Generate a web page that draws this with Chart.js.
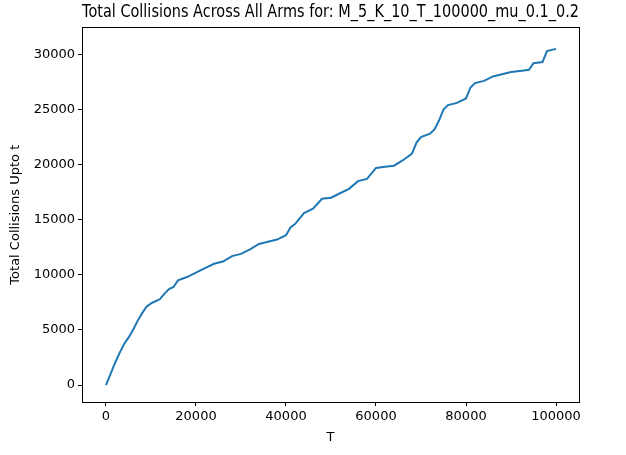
<!DOCTYPE html>
<html>
<head>
<meta charset="utf-8">
<script src="https://cdn.jsdelivr.net/npm/chart.js@4"></script>
<style>
  body { margin: 0; background: #fff; }
  #wrap { width: 626px; height: 455px; }
</style>
</head>
<body>
<div id="wrap"><canvas id="chart" width="626" height="455"></canvas></div>
<script>
// Data
const tValues = [0, 1000, 2000, 3000, 4000, 5000, 6000, 7000, 8000, 9000, 10000, 11000, 12000, 13000, 14000, 15000, 16000, 18000, 20000, 22000, 24000, 26000, 28000, 30000, 32000, 34000, 36000, 38000, 40000, 41000, 42000, 44000, 46000, 48000, 50000, 52000, 54000, 56000, 58000, 60000, 62000, 64000, 66000, 68000, 69000, 70000, 72000, 73000, 74000, 75000, 76000, 78000, 80000, 81000, 82000, 84000, 86000, 88000, 90000, 92000, 94000, 95000, 97000, 98000, 100000];
const collisions = [0, 1000, 2000, 2900, 3700, 4300, 5000, 5800, 6500, 7100, 7400, 7600, 7800, 8300, 8700, 8900, 9500, 9800, 10200, 10600, 11000, 11200, 11700, 11900, 12300, 12800, 13000, 13200, 13600, 14300, 14600, 15600, 16000, 16900, 17000, 17400, 17800, 18500, 18700, 19700, 19800, 19900, 20400, 21000, 22000, 22500, 22800, 23200, 24000, 25000, 25400, 25600, 26000, 27000, 27400, 27600, 28000, 28200, 28400, 28500, 28600, 29200, 29300, 30300, 30500];
const xTicks = [0, 20000, 40000, 60000, 80000, 100000];
const yTicks = [0, 5000, 10000, 15000, 20000, 25000, 30000];

const points = tValues.map((t, i) => ({ x: t, y: collisions[i] }));

// Draw the full axes box like matplotlib
const frame = {
  id: "frame",
  afterDraw(chart) {
    const { ctx, chartArea: a } = chart;
    ctx.save();
    ctx.strokeStyle = "#000";
    ctx.lineWidth = 1;
    ctx.strokeRect(Math.round(a.left) + 0.5, Math.round(a.top) + 0.5, Math.round(a.right - a.left), Math.round(a.bottom - a.top));
    ctx.restore();
  },
};

const font = { family: "DejaVu Sans", size: 13 };
const plain = (v) => String(v);

new Chart(document.getElementById("chart"), {
  type: "line",
  data: {
    datasets: [{
      data: points,
      borderColor: "#1f77b4",
      borderWidth: 2,
      pointRadius: 0,
      tension: 0,
    }],
  },
  options: {
    responsive: false,
    animation: false,
    layout: { padding: { left: 6, right: 47, top: 0, bottom: 8 } },
    plugins: {
      legend: { display: false },
      tooltip: { enabled: false },
      title: {
        display: true,
        fullSize: false,
        text: "Total Collisions Across All Arms for: M_5_K_10_T_100000_mu_0.1_0.2",
        color: "#000",
        font: { family: "DejaVu Sans", size: 17, weight: "normal" },
        padding: { top: 2, bottom: 5 },
      },
    },
    scales: {
      x: {
        type: "linear",
        min: -5333,
        max: 105111,
        afterBuildTicks: (s) => { s.ticks = xTicks.map((v) => ({ value: v })); },
        afterFit: (s) => { s.height = 45; },
        ticks: { color: "#000", font, padding: 3, callback: plain },
        grid: { drawOnChartArea: false, tickLength: 4, color: "#000" },
        border: { color: "#000" },
        title: { display: true, text: "T", color: "#000", font, padding: 2 },
      },
      y: {
        min: -1540,
        max: 32450,
        afterBuildTicks: (s) => { s.ticks = yTicks.map((v) => ({ value: v })); },
        afterFit: (s) => { s.width = 76; },
        ticks: { color: "#000", font, padding: 3, callback: plain },
        grid: { drawOnChartArea: false, tickLength: 4, color: "#000" },
        border: { color: "#000" },
        title: { display: true, text: "Total Collisions Upto t", color: "#000", font, padding: 2 },
      },
    },
  },
  plugins: [frame],
});
</script>
</body>
</html>
